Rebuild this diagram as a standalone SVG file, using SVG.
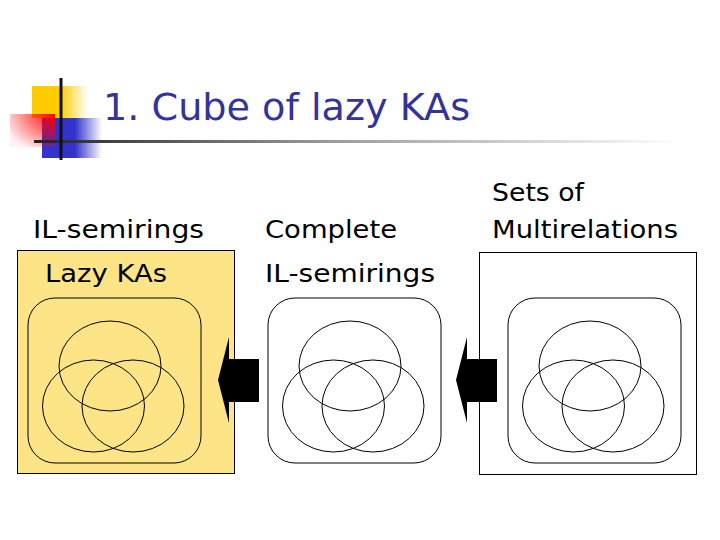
<svg xmlns="http://www.w3.org/2000/svg" width="720" height="540" viewBox="0 0 720 540">
<defs>
<linearGradient id="gYel" x1="0" y1="0" x2="1" y2="0">
<stop offset="0" stop-color="#FFCC00"/><stop offset="0.5" stop-color="#FFCC00"/><stop offset="1" stop-color="#FFCC00" stop-opacity="0"/>
</linearGradient>
<linearGradient id="gBlue" x1="0" y1="0" x2="1" y2="0">
<stop offset="0" stop-color="#3333CC"/><stop offset="0.55" stop-color="#3333CC"/><stop offset="1" stop-color="#3333CC" stop-opacity="0"/>
</linearGradient>
<radialGradient id="gRed" cx="1" cy="0" r="1.2">
<stop offset="0" stop-color="#FF0000"/><stop offset="1" stop-color="#FF0000" stop-opacity="0.05"/>
</radialGradient>
<linearGradient id="gLine" x1="34" y1="0" x2="680" y2="0" gradientUnits="userSpaceOnUse">
<stop offset="0" stop-color="#222222"/><stop offset="0.45" stop-color="#999999"/><stop offset="1" stop-color="#FFFFFF"/>
</linearGradient>
<g id="venn">
<rect x="28" y="298" width="173" height="165" rx="27" ry="27"/>
<ellipse cx="110" cy="366" rx="51" ry="45"/>
<ellipse cx="93.5" cy="406" rx="51" ry="46"/>
<ellipse cx="133" cy="406" rx="51" ry="46"/>
</g>
</defs>
<style>
.lbl{font-family:"DejaVu Sans","Verdana",sans-serif;font-size:24px;fill:#000}
.title{font-family:"DejaVu Sans","Verdana",sans-serif;font-size:38px;fill:#333399}
.venn{fill:none;stroke:#000;stroke-width:1}
.arrow{fill:#000}
</style>
<rect width="720" height="540" fill="#FFFFFF"/>
<g id="title">
<rect x="32" y="86" width="56" height="32" fill="url(#gYel)"/>
<rect x="42" y="118" width="60" height="40" fill="url(#gBlue)"/>
<rect x="10" y="114" width="45" height="33" fill="url(#gRed)"/>
<rect x="34" y="140" width="650" height="3" fill="url(#gLine)"/>
<rect x="59.5" y="78" width="3" height="82" fill="#111111"/>
<text class="title" x="103" y="120" textLength="367" lengthAdjust="spacingAndGlyphs">1. Cube of lazy KAs</text>
</g>
<g id="node-lazy">
<rect x="17.5" y="250.5" width="217" height="223" fill="#FDE486" stroke="#000" stroke-width="1"/>
<text class="lbl" x="33" y="238" textLength="171" lengthAdjust="spacingAndGlyphs">IL-semirings</text>
<text class="lbl" x="45" y="282" textLength="122" lengthAdjust="spacingAndGlyphs">Lazy KAs</text>
<use href="#venn" class="venn"/>
</g>
<g id="node-complete">
<text class="lbl" x="265" y="238" textLength="132" lengthAdjust="spacingAndGlyphs">Complete</text>
<text class="lbl" x="265" y="282" textLength="170" lengthAdjust="spacingAndGlyphs">IL-semirings</text>
<use href="#venn" class="venn" transform="translate(240,0)"/>
</g>
<g id="node-multirel">
<rect x="479.5" y="252.5" width="217" height="222" fill="#FFFFFF" stroke="#000" stroke-width="1"/>
<text class="lbl" x="492" y="201" textLength="92" lengthAdjust="spacingAndGlyphs">Sets of</text>
<text class="lbl" x="492" y="238" textLength="186" lengthAdjust="spacingAndGlyphs">Multirelations</text>
<use href="#venn" class="venn" transform="translate(480,0)"/>
</g>
<g id="connectors">
<polygon class="arrow" points="229,337 218,380 229,423 229,402 259,402 259,359 229,359"/>
<polygon class="arrow" points="467,337 456,380 467,423 467,402 497,402 497,359 467,359"/>
</g>
</svg>
